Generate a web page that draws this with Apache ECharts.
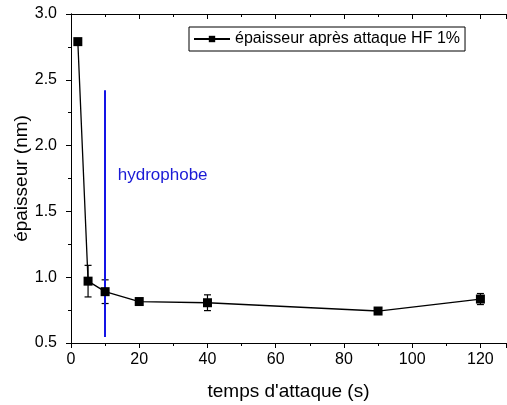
<!DOCTYPE html>
<html>
<head>
<meta charset="utf-8">
<script src="https://cdn.jsdelivr.net/npm/echarts@6/dist/echarts.min.js"></script>
<style>
html, body { margin: 0; padding: 0; background: #fff; }
#chart { width: 507px; height: 405px; }
</style>
</head>
<body>
<div id="chart"></div>
<script>
// temps d'attaque (s) et épaisseur (nm)
const temps = [2, 5, 10, 20, 40, 90, 120];
const epaisseur = [2.79, 0.97, 0.89, 0.815, 0.806, 0.743, 0.834];
const erreur = [0, 0.12, 0.09, 0.015, 0.06, 0.01, 0.042];
const hydroLine = [[10, 2.42], [10, 0.545]];

const font = 'Liberation Sans, Arial, sans-serif';
const chart = echarts.init(document.getElementById('chart'));

const errData = temps.map((t, i) => [t, epaisseur[i] - erreur[i], epaisseur[i] + erreur[i]]);

const option = {
    animation: false,
    grid: { left: 71, top: 14, right: 1, bottom: 62, outerBoundsMode: 'none', containLabel: false },
    legend: {
        data: ['épaisseur après attaque HF 1%'],
        left: 189, top: 27,
        itemWidth: 36, itemHeight: 8,
        itemGap: 4,
        borderColor: '#000', borderWidth: 1,
        padding: [4, 5, 4, 4],
        textStyle: { fontFamily: font, fontSize: 16, color: '#000' }
    },
    xAxis: [
        {
            type: 'value', min: 0, max: 127.5, interval: 20,
            name: "temps d'attaque (s)", nameLocation: 'middle', nameGap: 39,
            nameMoveOverlap: false,
            nameTextStyle: { fontFamily: font, fontSize: 19, color: '#000' },
            axisLine: { lineStyle: { color: '#000', width: 1 } },
            axisTick: { inside: false, length: 5, lineStyle: { color: '#000' } },
            minorTick: { show: true, splitNumber: 2, length: 3, lineStyle: { color: '#000' } },
            axisLabel: { fontFamily: font, fontSize: 16, color: '#000', margin: 9,
                formatter: v => (v > 120 ? '' : v) },
            splitLine: { show: false }
        },
        {
            type: 'value', position: 'top', min: 0, max: 127.5, interval: 20,
            axisLine: { lineStyle: { color: '#000', width: 1 } },
            axisTick: { inside: true, length: 5, lineStyle: { color: '#000' } },
            minorTick: { show: true, splitNumber: 2, length: 3, lineStyle: { color: '#000' } },
            axisLabel: { show: false },
            splitLine: { show: false }
        }
    ],
    yAxis: [
        {
            type: 'value', min: 0.5, max: 3.0, interval: 0.5,
            name: 'épaisseur (nm)', nameLocation: 'middle', nameGap: 40,
            nameMoveOverlap: false,
            nameTextStyle: { fontFamily: font, fontSize: 19, color: '#000' },
            axisLine: { show: true, lineStyle: { color: '#000', width: 1 } },
            axisTick: { show: true, inside: false, length: 5, lineStyle: { color: '#000' } },
            minorTick: { show: true, splitNumber: 2, length: 3, lineStyle: { color: '#000' } },
            axisLabel: { fontFamily: font, fontSize: 16, color: '#000', margin: 14,
                formatter: v => v.toFixed(1) },
            splitLine: { show: false }
        },
        {
            type: 'value', position: 'right', min: 0.5, max: 3.0, interval: 0.5,
            axisLine: { show: true, lineStyle: { color: '#000', width: 1 } },
            axisTick: { show: true, inside: true, length: 5, lineStyle: { color: '#000' } },
            minorTick: { show: true, splitNumber: 2, length: 3, lineStyle: { color: '#000' } },
            axisLabel: { show: false },
            splitLine: { show: false }
        }
    ],
    series: [
        {
            name: 'épaisseur après attaque HF 1%',
            type: 'line',
            data: temps.map((t, i) => [t, epaisseur[i]]),
            symbol: 'rect', symbolSize: 9,
            itemStyle: { color: '#000' },
            lineStyle: { color: '#000', width: 1.3 },
            z: 5,
            markLine: {
                silent: true, symbol: 'none',
                lineStyle: { color: '#1414e6', width: 2, type: 'solid' },
                label: { show: false },
                data: [[{ coord: hydroLine[0] }, { coord: hydroLine[1] }]]
            },
            markPoint: {
                symbolSize: 0,
                data: [{ coord: [13.7, 1.777] }],
                label: {
                    show: true, formatter: 'hydrophobe', position: 'right', distance: 0,
                    fontFamily: font, fontSize: 17, color: '#1a1ad6'
                }
            }
        },
        {
            type: 'custom',
            data: errData,
            z: 4,
            renderItem: function (params, api) {
                const x = api.value(0);
                const lo = api.coord([x, api.value(1)]);
                const hi = api.coord([x, api.value(2)]);
                const w = 3.5;
                const st = { stroke: '#000', lineWidth: 1.2 };
                return {
                    type: 'group',
                    children: [
                        { type: 'line', shape: { x1: lo[0], y1: lo[1], x2: hi[0], y2: hi[1] }, style: st },
                        { type: 'line', shape: { x1: lo[0] - w, y1: lo[1], x2: lo[0] + w, y2: lo[1] }, style: st },
                        { type: 'line', shape: { x1: hi[0] - w, y1: hi[1], x2: hi[0] + w, y2: hi[1] }, style: st }
                    ]
                };
            }
        }
    ]
};
chart.setOption(option);
</script>
</body>
</html>
